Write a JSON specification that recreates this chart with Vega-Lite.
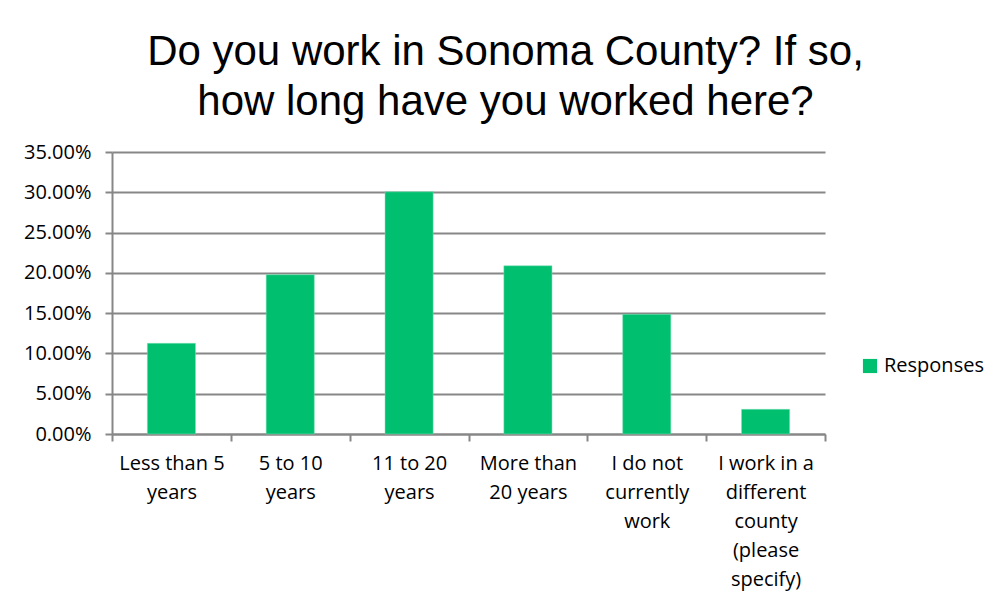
{
  "$schema": "https://vega.github.io/schema/vega-lite/v6.json",
  "width": 713,
  "height": 282,
  "autosize": {"type": "none"},
  "padding": {"left": 112, "top": 152, "right": 169, "bottom": 171},
  "background": "white",
  "title": {
    "text": ["Do you work in Sonoma County? If so,", "how long have you worked here?"],
    "font": "Liberation Sans",
    "fontSize": 42,
    "fontWeight": "normal",
    "color": "#000000",
    "lineHeight": 50,
    "anchor": "middle",
    "dx": 37,
    "offset": 18
  },
  "data": {
    "values": [
      {"answer": "Less than 5|years", "pct": 0.1125, "series": "Responses"},
      {"answer": "5 to 10|years", "pct": 0.1977, "series": "Responses"},
      {"answer": "11 to 20|years", "pct": 0.3006, "series": "Responses"},
      {"answer": "More than|20 years", "pct": 0.2088, "series": "Responses"},
      {"answer": "I do not|currently|work", "pct": 0.1485, "series": "Responses"},
      {"answer": "I work in a|different|county|(please|specify)", "pct": 0.0306, "series": "Responses"}
    ]
  },
  "mark": {"type": "bar", "stroke": "#7fe0b7", "strokeWidth": 0.5, "width": {"band": 0.405}},
  "encoding": {
    "x": {
      "field": "answer",
      "type": "nominal",
      "sort": null,
      "title": null,
      "scale": {"paddingInner": 0, "paddingOuter": 0},
      "axis": {
        "labelExpr": "split(datum.label, '|')",
        "labelAngle": 0,
        "labelFont": "Open Sans",
        "labelFontSize": 20,
        "labelColor": "#000000",
        "labelLineHeight": 29,
        "labelPadding": 12,
        "labelBaseline": "top",
        "tickBand": "extent",
        "tickSize": 7,
        "tickColor": "#878787",
        "tickWidth": 2,
        "domainColor": "#878787",
        "domainWidth": 2,
        "grid": false
      }
    },
    "y": {
      "field": "pct",
      "type": "quantitative",
      "title": null,
      "scale": {"domain": [0, 0.35], "nice": false},
      "axis": {
        "values": [0, 0.05, 0.1, 0.15, 0.2, 0.25, 0.3, 0.35],
        "format": ".2%",
        "labelFont": "Open Sans",
        "labelFontSize": 20,
        "labelColor": "#000000",
        "labelPadding": 14,
        "tickSize": 7,
        "tickColor": "#878787",
        "tickWidth": 2,
        "domainColor": "#878787",
        "domainWidth": 2,
        "grid": true,
        "gridColor": "#878787",
        "gridWidth": 2
      }
    },
    "color": {
      "field": "series",
      "type": "nominal",
      "title": null,
      "scale": {"range": ["#00BF6F"]},
      "legend": {
        "orient": "none",
        "legendX": 748,
        "legendY": 204,
        "symbolType": "square",
        "symbolSize": 200,
        "symbolStrokeWidth": 0,
        "labelFont": "Open Sans",
        "labelFontSize": 20,
        "labelColor": "#000000",
        "labelOffset": 4
      }
    }
  },
  "config": {"view": {"stroke": null}}
}
